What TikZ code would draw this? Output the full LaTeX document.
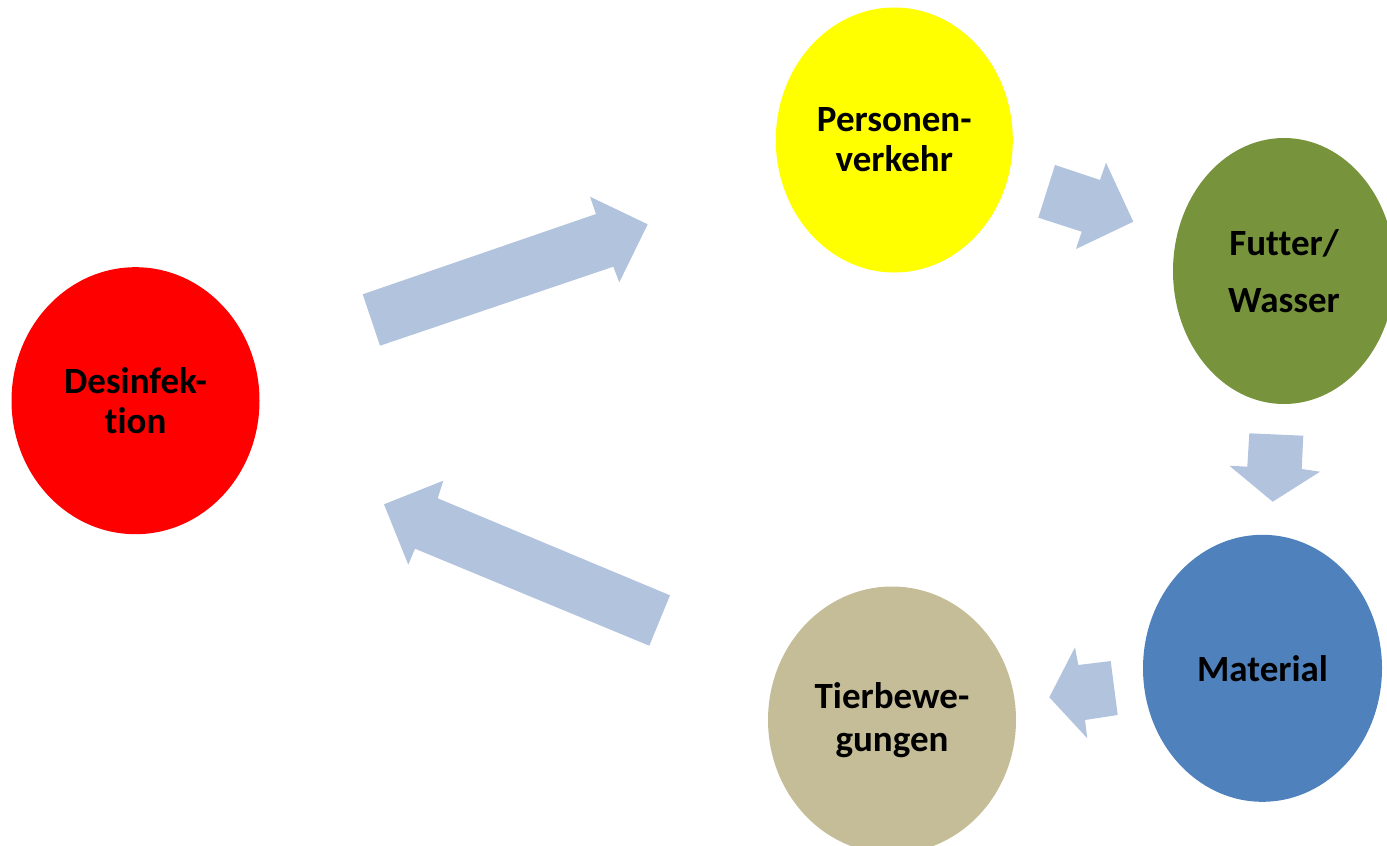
\documentclass[tikz,border=0pt]{standalone}
\usepackage{fontspec}
\setmainfont{Carlito}[Ligatures={NoCommon}]
\usetikzlibrary{shapes.geometric}
\definecolor{arrowblue}{RGB}{178,195,222}
\definecolor{olivegreen}{RGB}{119,147,60}
\definecolor{steelblue}{RGB}{79,129,189}
\definecolor{tan}{RGB}{196,189,151}
\definecolor{pureyellow}{RGB}{255,255,0}
\definecolor{purered}{RGB}{255,0,0}
\begin{document}
\begin{tikzpicture}[x=1pt,y=-1pt,
  bubble/.style={ellipse, inner sep=0pt, align=center, text=black,
    font=\bfseries\fontsize{37}{40}\selectfont},
  blockarrow/.style={fill=arrowblue, draw=none}]
\useasboundingbox (0,0) rectangle (1387,846);
\clip (0,0) rectangle (1387,846);
% bubbles
\node[bubble, fill=purered, minimum width=248pt, minimum height=267pt] (des) at (135.5,400.7) {Desinfek-\\tion};
\node[bubble, fill=pureyellow, minimum width=237pt, minimum height=265pt] (pers) at (894.3,140) {Personen-\\verkehr};
\node[bubble, fill=olivegreen, minimum width=222pt, minimum height=266pt,
  font=\bfseries\fontsize{37}{57}\selectfont] (fut) at (1284,271) {Futter/\\Wasser};
\node[bubble, fill=steelblue, minimum width=239pt, minimum height=267pt] (mat) at (1262.5,668.3) {Material};
\node[bubble, fill=tan, minimum width=248pt, minimum height=267pt,
  font=\bfseries\fontsize{37}{43}\selectfont] (tier) at (892,720) {Tierbewe-\\gungen};
% block arrows
\fill[blockarrow] (362.7,294.3) -- (596,214) -- (590,196.7) -- (647.7,224.3) -- (619.3,282.3) -- (613.3,266.7) -- (380,345.7) -- cycle;
\fill[blockarrow] (1055,165) -- (1100,180) -- (1106,162.7) -- (1133.3,221.7) -- (1076,249) -- (1081.7,231.7) -- (1038.3,217.7) -- cycle;
\fill[blockarrow] (1249.3,433.3) -- (1303.3,435.7) -- (1301.7,469) -- (1320,471.7) -- (1272.7,501.7) -- (1229.3,465.7) -- (1247.3,466.7) -- cycle;
\fill[blockarrow] (1110.7,661) -- (1117.7,715) -- (1085,720) -- (1087.3,738.3) -- (1049.3,697.3) -- (1075,647.3) -- (1078.3,665) -- cycle;
\fill[blockarrow] (670,595.3) -- (649.3,645.7) -- (415,548.7) -- (408.3,564.7) -- (384,504.3) -- (443.3,480.7) -- (437.7,498.3) -- cycle;
\end{tikzpicture}
\end{document}
